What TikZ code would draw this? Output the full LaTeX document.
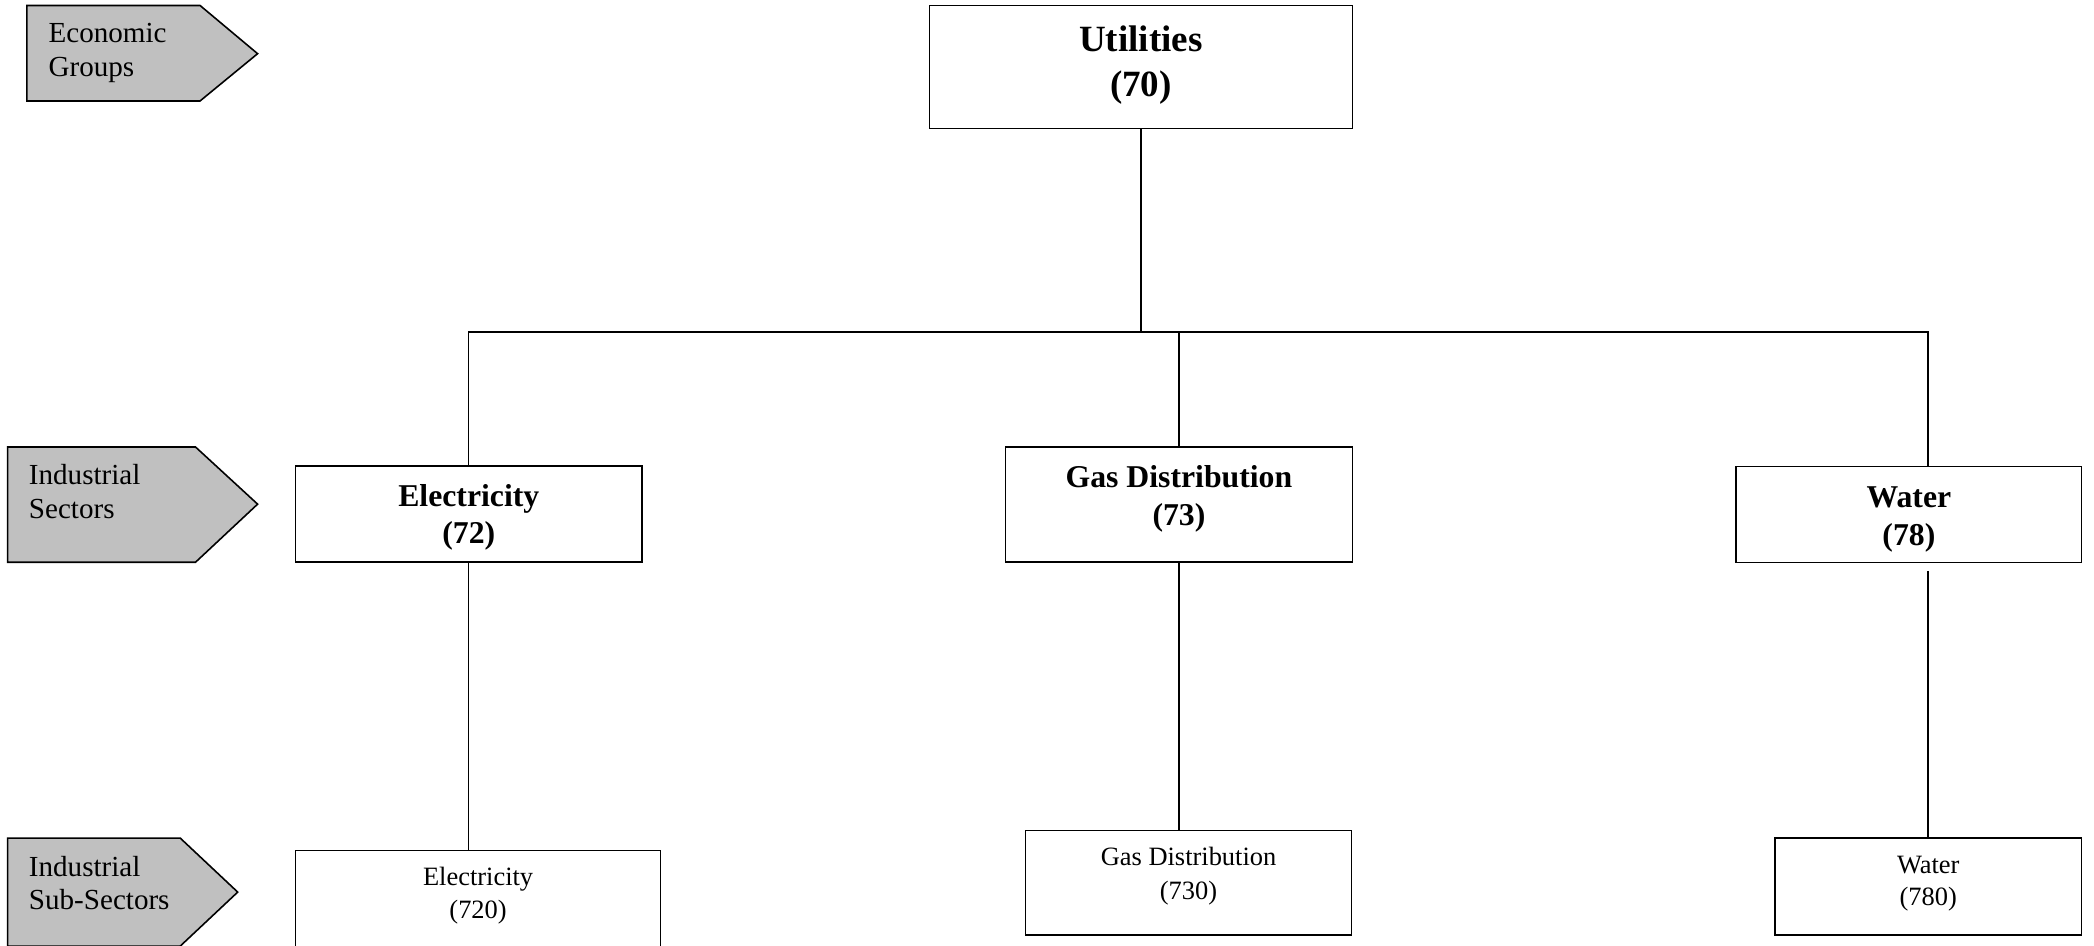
\documentclass[tikz,border=0pt]{standalone}
\usepackage{fontspec}
\setmainfont{Liberation Serif}
\usetikzlibrary{fit}
\definecolor{labelgray}{RGB}{192,192,192}
\begin{document}
\begin{tikzpicture}[x=0.505pt,y=-0.505pt, line width=0.6pt,
  box/.style={draw, rectangle, inner sep=0pt},
  labshape/.style={draw, fill=labelgray, line join=miter},
  utext/.style={anchor=base, inner sep=0pt, font=\fontsize{14}{17}\selectfont\bfseries},
  stext/.style={anchor=base, inner sep=0pt, font=\fontsize{12}{14}\selectfont\bfseries},
  subtext/.style={anchor=base, inner sep=0pt, font=\fontsize{10}{12}\selectfont},
  ltext/.style={anchor=base west, inner sep=0pt, font=\fontsize{11}{13}\selectfont}]
\clip (0,0) rectangle (1568,708);
\fill[white] (0,0) rectangle (1568,708);

% level labels
\draw[labshape] (20.1,4.1) -- (149.8,4.1) -- (192.9,40.2) -- (149.8,75.6) -- (20.1,75.6) -- cycle;
\node[ltext] (econA) at (35.8,31.8) {Economic};
\node[ltext] (econB) at (35.8,57.3) {Groups};

\draw[labshape] (5.7,334.7) -- (146.4,334.7) -- (192.9,377.5) -- (146.4,421) -- (5.7,421) -- cycle;
\node[ltext] (sectA) at (21.1,362.9) {Industrial};
\node[ltext] (sectB) at (21.1,388.6) {Sectors};

\draw[labshape] (5.7,627.6) -- (135,627.6) -- (178,668) -- (135,708.4) -- (5.7,708.4) -- cycle;
\node[ltext] (subA) at (21.1,656.4) {Industrial};
\node[ltext] (subB) at (21.1,681.4) {Sub-Sectors};

% boxes
\node[box, fit={(696,4.1) (1012.6,96.1)}] (util) {};
\node[box, fit={(221.3,349) (480.7,421)}] (elec) {};
\node[box, fit={(753,334.7) (1012.6,421)}] (gas) {};
\node[box, fit={(1300,349.4) (1558.7,421.3)}] (water) {};
\node[box, fit={(221.3,637) (494.7,714)}] (elecsub) {};
\node[box, fit={(768,622) (1012,700)}] (gassub) {};
\node[box, fit={(1329,627.7) (1558.7,700)}] (watersub) {};

% texts
\node[utext] (utilA) at (854.3,38.8) {Utilities};
\node[utext] (utilB) at (854.3,72.6) {(70)};
\node[stext] (elecA) at (351,379.5) {Electricity};
\node[stext] (elecB) at (351,406.6) {(72)};
\node[stext] (gasA) at (882.8,365) {Gas Distribution};
\node[stext] (gasB) at (882.8,393.4) {(73)};
\node[stext] (waterA) at (1429.4,380.1) {Water};
\node[stext] (waterB) at (1429.4,408.6) {(78)};
\node[subtext] (elecsubA) at (358,663.4) {Electricity};
\node[subtext] (elecsubB) at (358,687.6) {(720)};
\node[subtext] (gassubA) at (890,648.4) {Gas Distribution};
\node[subtext] (gassubB) at (890,673.4) {(730)};
\node[subtext] (watersubA) at (1443.9,654) {Water};
\node[subtext] (watersubB) at (1443.9,678.4) {(780)};

% connectors
\coordinate (bus) at (854.3,248.5);
\coordinate (elecx) at (350.7,0);
\coordinate (waterx) at (1443.8,0);
\draw (util.south) -- (bus);
\draw (elecx |- elec.north) |- (bus) -| (waterx |- water.north);
\draw (gas.north) -- (gas.north |- bus);
\draw (elecx |- elec.south) -- (elecx |- elecsub.north);
\draw (gas.south) -- (gas.south |- gassub.north);
\draw[shorten <=2.8pt] (waterx |- water.south) -- (waterx |- watersub.north);
\end{tikzpicture}
\end{document}
